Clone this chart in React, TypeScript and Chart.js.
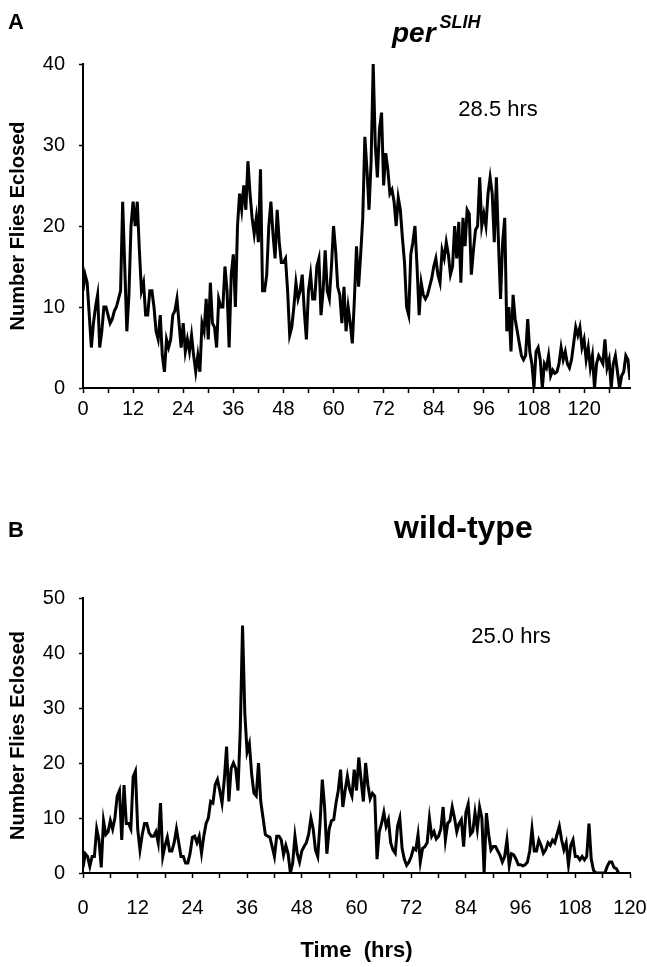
import { useEffect, useRef } from 'react';
import { Chart, registerables } from 'chart.js';

Chart.register(...registerables);

// Eclosion counts, one value per 0.5-hour bin, starting at t = 0 h
const BIN_HOURS = 0.5;

const countsPerSLIH = [
  12, 14, 13, 9, 5, 8, 10, 11.5, 5, 7,
  10, 10, 9, 8, 8.5, 9.5, 10, 11, 12, 23,
  15, 7, 11.5, 20, 23, 20, 23, 17, 12, 13,
  9, 9, 12, 12, 10, 7, 6, 9, 4, 2,
  6, 5, 6, 9, 9.5, 11, 8, 5, 8, 4.5,
  6, 4.5, 6.5, 4, 2, 4, 2, 8, 7, 11,
  6, 13, 8, 7.5, 5, 11, 10, 10, 15, 12,
  5, 14, 16.5, 10, 20, 24, 22, 25, 22, 28,
  24, 21, 19, 21, 18, 27, 12, 12, 14, 20,
  23, 19, 16, 22, 18, 15.5, 15.5, 16, 12, 6.5,
  7.5, 10, 13, 11, 12, 14, 9.5, 6, 12, 14,
  11, 11, 15, 16, 9, 12, 17, 12, 11, 15,
  20, 17, 12.5, 11.5, 8, 12.5, 7, 10, 8, 5.5,
  11, 17.5, 12.5, 16.5, 21, 31, 27, 22, 28, 40,
  30, 26, 32, 34, 25, 29, 27, 24, 24.5, 23,
  20, 23.5, 22, 18.5, 15.5, 10, 9, 16.5, 18, 20,
  15, 9, 13, 11.5, 11, 11.5, 12.5, 13.5, 15, 16,
  14, 13, 17, 16, 18, 16.5, 14, 15, 20, 16,
  20.5, 13, 21, 17.5, 22, 21.5, 14, 17, 19.5, 20,
  26, 20, 21.5, 20, 24, 26, 24, 18, 26, 18,
  11, 18, 21, 7, 10, 4.5, 11.5, 8.5, 7, 5.5,
  4, 3.5, 4, 8.5, 4.5, 3, 0, 4.5, 5, 3.5,
  0, 3, 2.5, 4, 1.5, 2.2, 1.8, 2, 3, 5,
  3.5, 4.5, 3, 2.5, 3.5, 5.5, 7.5, 6.5, 7.5, 5,
  6, 3.5, 5, 2.5, 4, 0, 3, 4, 3.5, 3,
  6, 2.5, 3.5, 0, 3, 4, 2, 0, 1.5, 2,
  4, 3.5, 1,
];

const countsWildType = [
  1, 3.5, 3, 1.2, 3, 3, 8, 6, 1, 9.5,
  7, 7.5, 9.5, 8, 10, 14, 15, 6, 16, 9,
  9, 8, 17.5, 18.5, 8, 4.2, 7, 9, 9, 7.3,
  6.7, 6.7, 7.5, 5.5, 12.7, 3, 5, 6.5, 4, 4,
  5.5, 8, 5.5, 3, 3, 1.8, 1.8, 3.6, 6.5, 6.7,
  5.5, 6.7, 3.6, 6.7, 9, 10, 13, 12.7, 16, 17,
  15, 12.7, 17, 23, 13, 19, 20, 19, 15, 26,
  45, 29, 22, 23.5, 18, 14.5, 14, 20, 13, 10,
  7, 6.7, 6.5, 4.8, 3, 6.7, 6.7, 6, 3.3, 5,
  3.5, 0, 1.8, 6.7, 3.5, 2, 4, 4.8, 5.5, 7,
  10, 8, 4.2, 3, 9, 17, 12, 3.5, 8, 9.5,
  9.7, 12.7, 15, 18.8, 12, 15, 17.6, 15.2, 14, 18.8,
  15, 21, 17, 13, 20, 16, 13.5, 14.5, 14, 2.5,
  7.5, 9, 11, 8.5, 9.7, 5.5, 4.2, 3.6, 8.5, 10,
  4.5, 2.5, 1.4, 2, 3, 4.5, 4.2, 7, 2, 4.5,
  4.8, 5.5, 10, 6.7, 7.5, 6.2, 6.7, 8, 12, 6,
  9, 9.5, 12, 10, 7.5, 9, 9.7, 4.8, 11, 12.5,
  7, 7.5, 11, 8, 12, 10, 0, 10.9, 7, 4.2,
  4.8, 4.8, 4, 3.2, 2, 3, 6, 1.3, 3.5, 3.3,
  2.5, 1.5, 1.5, 1.3, 1.5, 2, 4, 8, 4, 4,
  6, 5, 3.6, 4.2, 5.5, 5, 6, 5.5, 7, 8.5,
  6, 4.2, 5.5, 1.5, 5, 6, 3, 3, 2.4, 3,
  2.4, 3, 9, 2.5, 0.5, 0, 0, 0, 0, 0,
  1.2, 2, 2, 1, 0.8, 0,
];

// Axis ranges and tick settings
const xMaxA = 131;
const xMaxB = 120;
const yMaxA = 40;
const yMaxB = 50;
const xTickStep = 6;
const xLabelEvery = 12;
const yTickStep = 10;

const panelLetters = ['A', 'B'];
const genotypeTitles = ['per', 'wild-type'];
const allele = 'SLIH';
const periods = ['28.5 hrs', '25.0 hrs'];
const periodPosA = { t: 99.4, v: 34.3 };
const periodPosB = { t: 93.9, v: 42.9 };
const yTitle = 'Number Flies Eclosed';
const xTitle = 'Time  (hrs)';

const FONT = "'Liberation Sans', Arial, Helvetica, sans-serif";

function toPoints(counts: number[]) {
  return counts.map((v, i) => ({ x: i * BIN_HOURS, y: v }));
}

type PanelOpts = {
  counts: number[];
  xMax: number;
  yMax: number;
  padTop: number;
  padRight: number;
  xAxisHeight: number;
  xTickPad: number;
  showXTitle: boolean;
  extraDraw: (ctx: CanvasRenderingContext2D, chart: any) => void;
};

function makeChart(canvas: HTMLCanvasElement, o: PanelOpts) {
  return new Chart(canvas, {
    type: 'line',
    data: {
      datasets: [
        {
          data: toPoints(o.counts),
          borderColor: '#000',
          borderWidth: 3,
          pointRadius: 0,
          tension: 0,
          fill: false,
        },
      ],
    },
    options: {
      animation: false,
      responsive: false,
      events: [],
      layout: { padding: { top: o.padTop, right: o.padRight, left: 0, bottom: 0 } },
      plugins: {
        legend: { display: false },
        tooltip: { enabled: false },
        title: { display: false },
      },
      scales: {
        x: {
          type: 'linear',
          min: 0,
          max: o.xMax,
          grid: {
            drawOnChartArea: false,
            drawTicks: true,
            tickLength: 5,
            tickWidth: 1.5,
            tickColor: '#000',
          },
          border: { display: true, color: '#000', width: 2 },
          ticks: {
            stepSize: xTickStep,
            includeBounds: false,
            autoSkip: false,
            maxRotation: 0,
            color: '#000',
            padding: o.xTickPad,
            font: { family: FONT, size: 20 },
            callback: (v: any) => (Number(v) % xLabelEvery === 0 ? String(v) : ''),
          },
          title: {
            display: o.showXTitle,
            text: xTitle,
            color: '#000',
            font: { family: FONT, size: 22, weight: 'bold' },
            padding: { top: 0, bottom: 3 },
          },
          afterFit: (s: any) => {
            s.height = o.xAxisHeight;
          },
        },
        y: {
          min: 0,
          max: o.yMax,
          grid: {
            drawOnChartArea: false,
            drawTicks: true,
            tickLength: 4,
            tickWidth: 1.5,
            tickColor: '#000',
          },
          border: { display: true, color: '#000', width: 2 },
          ticks: {
            stepSize: yTickStep,
            color: '#000',
            padding: 14,
            font: { family: FONT, size: 20 },
          },
          title: {
            display: true,
            text: yTitle,
            color: '#000',
            font: { family: FONT, size: 20, weight: 'bold' },
            padding: { top: 6, bottom: 0 },
          },
          afterFit: (s: any) => {
            s.width = 83;
          },
        },
      },
    },
    plugins: [
      {
        id: 'panelTexts',
        afterDraw(chart: any) {
          const ctx = chart.ctx as CanvasRenderingContext2D;
          ctx.save();
          o.extraDraw(ctx, chart);
          ctx.restore();
        },
      },
    ],
  } as any);
}

export default function App() {
  const refA = useRef<HTMLCanvasElement>(null);
  const refB = useRef<HTMLCanvasElement>(null);

  useEffect(() => {
    const chartA = makeChart(refA.current!, {
      counts: countsPerSLIH,
      xMax: xMaxA,
      yMax: yMaxA,
      padTop: 64,
      padRight: 17,
      xAxisHeight: 62,
      xTickPad: 4,
      showXTitle: false,
      extraDraw: (ctx, chart) => {
        ctx.fillStyle = '#000';
        ctx.textBaseline = 'alphabetic';
        ctx.textAlign = 'left';
        ctx.font = `bold 22px ${FONT}`;
        ctx.fillText(panelLetters[0], 8, 29);
        ctx.font = `italic bold 28px ${FONT}`;
        ctx.fillText(genotypeTitles[0], 392, 42);
        const w = ctx.measureText(genotypeTitles[0]).width;
        ctx.font = `italic bold 18px ${FONT}`;
        ctx.fillText(allele, 392 + w + 4, 28);
        const xs = chart.scales.x;
        const ys = chart.scales.y;
        ctx.font = `22px ${FONT}`;
        ctx.textAlign = 'center';
        ctx.textBaseline = 'middle';
        ctx.fillText(periods[0], xs.getPixelForValue(periodPosA.t), ys.getPixelForValue(periodPosA.v));
      },
    });
    const chartB = makeChart(refB.current!, {
      counts: countsWildType,
      xMax: xMaxB,
      yMax: yMaxB,
      padTop: 148,
      padRight: 35,
      xAxisHeight: 94,
      xTickPad: 18,
      showXTitle: true,
      extraDraw: (ctx, chart) => {
        ctx.fillStyle = '#000';
        ctx.textBaseline = 'alphabetic';
        ctx.textAlign = 'left';
        ctx.font = `bold 22px ${FONT}`;
        ctx.fillText(panelLetters[1], 8, 87);
        ctx.font = `bold 32px ${FONT}`;
        ctx.fillText(genotypeTitles[1], 394, 88);
        const xs = chart.scales.x;
        const ys = chart.scales.y;
        ctx.font = `22px ${FONT}`;
        ctx.textAlign = 'center';
        ctx.textBaseline = 'middle';
        ctx.fillText(periods[1], xs.getPixelForValue(periodPosB.t), ys.getPixelForValue(periodPosB.v));
      },
    });
    return () => {
      chartA.destroy();
      chartB.destroy();
    };
  }, []);

  return (
    <div
      style={{
        position: 'absolute',
        left: 0,
        top: 0,
        width: 647,
        height: 967,
        background: '#fff',
        overflow: 'hidden',
      }}
    >
      <canvas ref={refA} width={647} height={450} style={{ display: 'block', width: 647, height: 450 }} />
      <canvas ref={refB} width={665} height={517} style={{ display: 'block', width: 665, height: 517 }} />
    </div>
  );
}
